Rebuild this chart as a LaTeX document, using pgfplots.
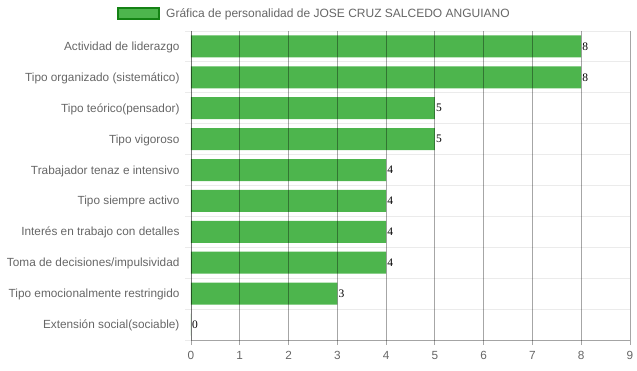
\documentclass[border=0pt]{standalone}
\usepackage{fontspec}
\setmainfont{Liberation Sans}
\newfontfamily\valfont{Liberation Serif}
\usepackage{pgfplots}
\pgfplotsset{compat=1.18}
\definecolor{barg}{RGB}{77,181,77}
\definecolor{bord}{RGB}{20,130,20}
\definecolor{txtg}{RGB}{102,102,102}
\begin{document}
\begin{tikzpicture}
\begin{axis}[
  name=ax,
  at={(0,0)}, anchor=south west,
  scale only axis,
  width=439pt, height=309pt,
  xbar, bar width=22pt,
  xmin=0, xmax=9,
  ymin=-0.5, ymax=9.5,
  y dir=reverse,
  xtick={0,...,9},
  ytick={0,...,9},
  yticklabels={Actividad de liderazgo,Tipo organizado (sistemático),Tipo teórico(pensador),Tipo vigoroso,Trabajador tenaz e intensivo,Tipo siempre activo,Interés en trabajo con detalles,Toma de decisiones/impulsividad,Tipo emocionalmente restringido,Extensión social(sociable)},
  minor ytick={-0.5,0.5,...,9.5},
  major y tick style={draw=none},
  yminorgrids=true,
  minor y grid style={draw=black, opacity=0.08, line width=0.8pt},
  minor y tick style={draw=black, opacity=0.08, line width=0.8pt},
  minor tick length=6pt,
  xmajorgrids=true,
  major x grid style={draw=black, opacity=0.35, line width=0.8pt},
  major x tick style={draw=black, opacity=0.35, line width=0.8pt},
  major tick length=5pt,
  tick align=outside,
  axis x line*=bottom, axis y line*=left,
  x axis line style={draw=black, opacity=0.3, line width=0.8pt, -},
  y axis line style={draw=black, opacity=0.3, line width=0.8pt, -},
  axis on top,
  tick label style={font=\fontsize{11.8}{14}\selectfont, text=txtg},
  /pgf/number format/assume math mode=true,
  xticklabel style={yshift=-3pt},
  yticklabel style={xshift=-3pt, yshift=-1pt},
  nodes near coords,
  nodes near coords style={anchor=west, inner sep=1pt, font=\valfont\fontsize{11.5}{12}\selectfont, text=black},
  legend style={at={(0,1)}, anchor=west, xshift=-74pt, yshift=17.5pt, draw=none, fill=none, inner sep=0pt,
    font=\fontsize{12}{14}\selectfont, text=txtg,
    /tikz/every odd column/.style={column sep=4pt}},
  legend image code/.code={\draw[fill=barg, draw=bord, line width=2pt] (0pt,-5.5pt) rectangle (41pt,5.5pt);},
]
\addplot[fill=barg, draw=none] coordinates {
(8,0) (8,1) (5,2) (5,3) (4,4) (4,5) (4,6) (4,7) (3,8) (0,9)
};
\addlegendentry{Gráfica de personalidad de JOSE CRUZ SALCEDO ANGUIANO}
\end{axis}
\pgfresetboundingbox
\path (-191pt,-31pt) rectangle (446pt,340pt);
\end{tikzpicture}
\end{document}
